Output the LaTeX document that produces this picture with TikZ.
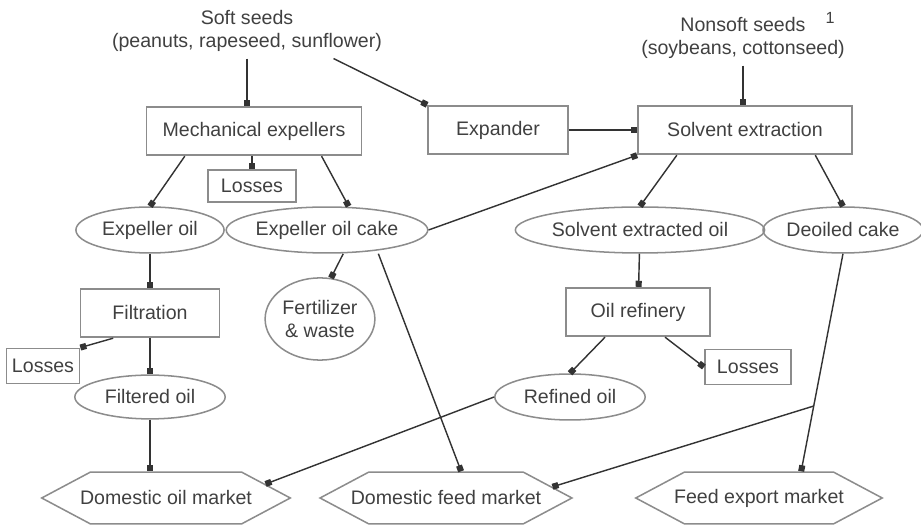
\documentclass[tikz,border=0pt]{standalone}
\usepackage{fontspec}
\setmainfont{Liberation Sans}
\usetikzlibrary{arrows.meta,calc,shapes.geometric,shapes.symbols}

\begin{document}
\begin{tikzpicture}[x=0.0185cm,y=-0.0185cm,
  font=\fontsize{10.3}{12.3}\selectfont, text=black!75,
  procbox/.style={draw=black!45,line width=0.9pt,minimum height=0.9cm,inner sep=2pt},
  prodell/.style={ellipse,draw=black!45,line width=0.8pt,minimum height=0.85cm,inner sep=0pt},
  market/.style={signal,signal to=west and east,signal pointer angle=56,draw=black!45,line width=0.8pt,minimum height=0.96cm,inner xsep=-5.5pt,inner ysep=0pt},
  flow/.style={draw=black!80,line width=0.75pt,-{Square[length=3.2pt,width=3.2pt]}}]
\useasboundingbox (0,0) rectangle (921,527);
\node[align=center] (soft) at (247,31) {Soft seeds\\(peanuts, rapeseed, sunflower)};
\node[align=center] (nonsoft) at (743,38) {Nonsoft seeds\\(soybeans, cottonseed)};
\node[font=\fontsize{8.5}{9}\selectfont] (note) at (830,18) {1};
\node[procbox,minimum width=3.98cm] (mech) at (254,131) {Mechanical expellers};
\node[procbox,minimum width=2.59cm] (exp) at (498,130) {Expander};
\node[procbox,minimum width=3.96cm] (solv) at (745,130) {Solvent extraction};
\node[procbox,minimum width=1.63cm,minimum height=0.6cm] (loss1) at (252,186) {Losses};
\node[prodell,minimum width=2.74cm] (expoil) at (150,230) {Expeller oil};
\node[prodell,minimum width=2.87cm] (cake) at (327,230) {Expeller oil cake};
\node[prodell,minimum width=4.18cm] (soloil) at (640,230) {Solvent extracted oil};
\node[prodell,minimum width=2.68cm] (deoil) at (843,230) {Deoiled cake};
\node[procbox,minimum width=2.57cm] (filt) at (150,313) {Filtration};
\node[prodell,minimum width=2.03cm,minimum height=1.52cm,align=center] (fert) at (320,319) {Fertilizer\\\& waste};
\node[procbox,minimum width=2.65cm] (refin) at (638,312) {Oil refinery};
\node[procbox,minimum width=1.35cm,minimum height=0.65cm] (loss2) at (43,366) {Losses};
\node[procbox,minimum width=1.6cm,minimum height=0.65cm] (loss3) at (748,367) {Losses};
\node[prodell,minimum width=2.78cm,minimum height=0.81cm] (filtoil) at (150,397) {Filtered oil};
\node[prodell,minimum width=2.78cm] (refoil) at (570,397) {Refined oil};
\node[market] (doil) at (166,498) {Domestic oil market};
\node[market,inner xsep=-9.5pt] (dfeed) at (446,498) {Domestic feed market};
\node[market] (fexp) at (759,498) {Feed export market};

\draw[flow] (soft.south) -- (soft.south |- mech.north);
\draw[flow] ([xshift=1.6cm]soft.south) -- (exp.north west);
\draw[flow] (nonsoft.south) -- (nonsoft.south |- solv.north);
\draw[flow] (exp) -- (solv);
\draw[flow] (mech.south -| loss1) -- (loss1);
\draw[flow] ([xshift=-1.28cm]mech.south) -- (expoil.north);
\draw[flow] ([xshift=1.25cm]mech.south) -- ([xshift=0.4cm]cake.north);
\draw[flow] (cake.east) -- (solv.south west);
\draw[flow] ([xshift=-1.26cm]solv.south) -- (soloil.north);
\draw[flow] ([xshift=1.3cm]solv.south) -- (deoil.north);
\draw[flow] (expoil) -- (filt);
\draw[flow] ([xshift=0.3cm]cake.south) -- (fert.75);
\draw[flow] ([xshift=0.95cm]cake.south) -- ([xshift=0.28cm]dfeed.north);
\draw[flow] ([xshift=-0.68cm]filt.south) -- (loss2.north east);
\draw[flow] (filt) -- (filtoil);
\draw[flow] (filtoil) -- (filtoil |- doil.north);
\draw[flow] (soloil) -- (refin);
\draw[flow] ([xshift=-0.61cm]refin.south) -- (refoil.north);
\draw[flow] ([xshift=0.5cm]refin.south) -- (loss3.west);
\draw[flow] (refoil.west) -- (doil.8);
\coordinate (fexptop) at ([xshift=0.78cm]fexp.north);
\coordinate (split) at ($(deoil.south)!0.7!(fexptop)$);
\draw[flow] (deoil.south) -- (fexptop);
\draw[flow] (split) -- (dfeed.6);
\end{tikzpicture}
\end{document}
